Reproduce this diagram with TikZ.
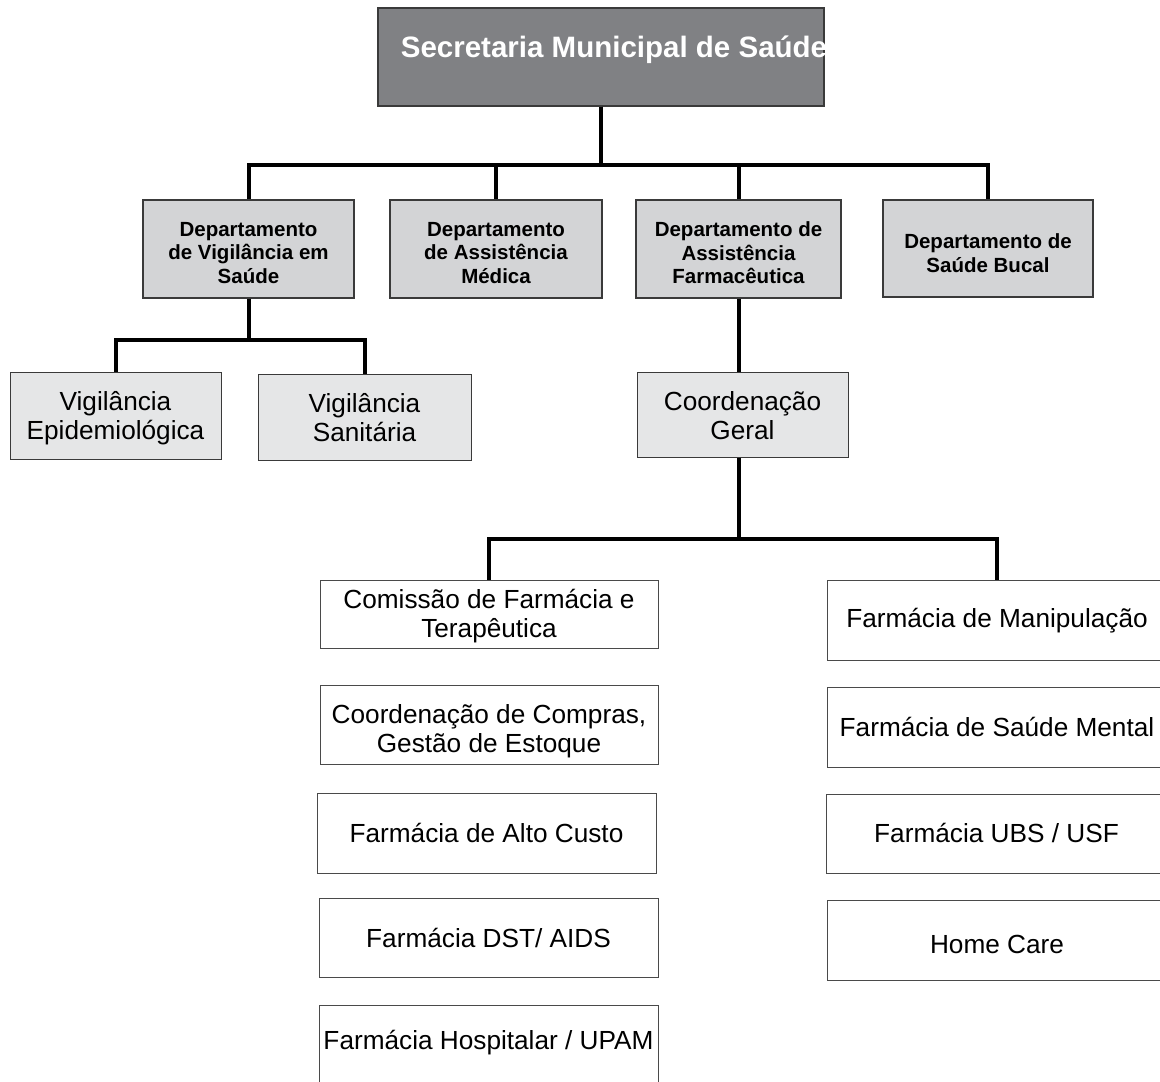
\documentclass[tikz,border=0pt]{standalone}
\usepackage{fontspec}
\setmainfont{Liberation Sans}
\definecolor{headfill}{HTML}{808184}
\definecolor{deptfill}{HTML}{D3D4D6}
\definecolor{subfill}{HTML}{E5E6E7}
\definecolor{edge}{HTML}{3A3A3A}
\definecolor{thinedge}{HTML}{4A4A4A}
\begin{document}
\begin{tikzpicture}[x=1pt,y=-1pt,
  conn/.style={line width=4pt,black,line join=miter},
  headbox/.style={draw=edge,line width=1.2pt,fill=headfill,inner sep=0pt},
  deptbox/.style={draw=edge,line width=1.1pt,fill=deptfill,inner sep=0pt},
  subbox/.style={draw=edge,line width=1pt,fill=subfill,inner sep=0pt},
  unitbox/.style={draw=thinedge,line width=1pt,fill=white,inner sep=0pt},
  headtxt/.style={inner sep=0pt,text=white,font=\fontsize{29.5}{33}\selectfont\bfseries},
  depttxt/.style={inner sep=0pt,align=center,font=\fontsize{20.5}{23.5}\selectfont\bfseries},
  unittxt/.style={inner sep=0pt,align=center,font=\fontsize{26.2}{29}\selectfont}]
\useasboundingbox (0,0) rectangle (1160,1082);
\clip (0,0) rectangle (1160,1082);

% top level
\node[headbox,minimum width=446pt,minimum height=98pt] (sec) at (601,57) {};
\node[headtxt] (sect) at (614,50) {Secretaria Municipal de Saúde};

% departments
\node[deptbox,minimum width=211pt,minimum height=98pt] (d1) at (248.5,249) {};
\node[deptbox,minimum width=212pt,minimum height=98pt] (d2) at (496,249) {};
\node[deptbox,minimum width=205pt,minimum height=98pt] (d3) at (738.5,249) {};
\node[deptbox,minimum width=210pt,minimum height=97pt] (d4) at (988,248.5) {};
\node[depttxt] (d1t) at (248.5,253) {Departamento\\de Vigilância em\\Saúde};
\node[depttxt] (d2t) at (496,253) {Departamento\\de Assistência\\Médica};
\node[depttxt] (d3t) at (738.5,253) {Departamento de\\Assistência\\Farmacêutica};
\node[depttxt] (d4t) at (988,253) {Departamento de\\Saúde Bucal};

% surveillance units
\node[subbox,minimum width=211pt,minimum height=87pt] (ve) at (115.5,415.5) {};
\node[subbox,minimum width=213pt,minimum height=86pt] (vs) at (364.5,417) {};
\node[unittxt] (vet) at (115.5,418.5) {Vigilância\\Epidemiológica};
\node[unittxt] (vst) at (364.5,418) {Vigilância\\Sanitária};

% pharmacy coordination
\node[subbox,minimum width=211pt,minimum height=85pt] (cg) at (742.5,414.5) {};
\node[unittxt] (cgt) at (742.5,416) {Coordenação\\Geral};

% pharmacy units, left column
\node[unitbox,minimum width=338pt,minimum height=68pt] (c1) at (489,614) {};
\node[unitbox,minimum width=338pt,minimum height=79pt] (c2) at (489,724.5) {};
\node[unitbox,minimum width=339pt,minimum height=80pt] (c3) at (486.5,833) {};
\node[unitbox,minimum width=339pt,minimum height=79pt] (c4) at (488.5,937.5) {};
\node[unitbox,minimum width=339pt,minimum height=80pt] (c5) at (488.5,1045) {};
\node[unittxt] (c1t) at (489,616.5) {Comissão de Farmácia e\\Terapêutica};
\node[unittxt] (c2t) at (489,731) {Coordenação de Compras,\\Gestão de Estoque};
\node[unittxt] (c3t) at (486.5,833) {Farmácia de Alto Custo};
\node[unittxt] (c4t) at (488.5,938) {Farmácia DST/ AIDS};
\node[unittxt] (c5t) at (488.5,1043) {Farmácia Hospitalar / UPAM};

% pharmacy units, right column
\node[unitbox,minimum width=340pt,minimum height=80pt] (r1) at (997,620) {};
\node[unitbox,minimum width=340pt,minimum height=80pt] (r2) at (997,727) {};
\node[unitbox,minimum width=341pt,minimum height=79pt] (r3) at (996.5,833.5) {};
\node[unitbox,minimum width=340pt,minimum height=80pt] (r4) at (997,940) {};
\node[unittxt] (r1t) at (997,621) {Farmácia de Manipulação};
\node[unittxt] (r2t) at (997,727) {Farmácia de Saúde Mental};
\node[unittxt] (r3t) at (996.5,833) {Farmácia UBS / USF};
\node[unittxt] (r4t) at (997,944) {Home Care};

% connectors
\coordinate (bar1) at (601,165);
\foreach \d in {d1,d2,d3,d4}
  \draw[conn] (sec.south) -- (bar1) -| (\d.north);

\coordinate (bar2) at (248.5,340);
\foreach \v in {ve,vs}
  \draw[conn] (d1.south) -- (bar2) -| (\v.north);

\draw[conn] (d3.south) -- (d3.south |- cg.north);

\coordinate (bar3) at (738.5,539);
\foreach \c in {c1,r1}
  \draw[conn] (d3.south |- cg.south) -- (bar3) -| (\c.north);
\end{tikzpicture}
\end{document}
